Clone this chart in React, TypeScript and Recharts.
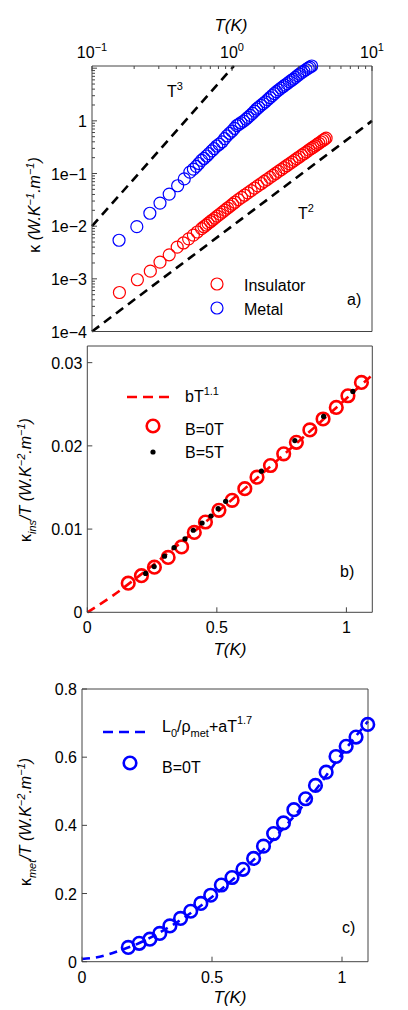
import React from 'react';
import { ComposedChart, XAxis, YAxis, Scatter, Line } from 'recharts';

const FONT = '"Liberation Sans", Arial, Helvetica, sans-serif';

// ---------- Panel a (log-log) ----------
const metalT = [0.156,0.209,0.259,0.306,0.356,0.409,0.456,0.50,0.53,0.556,0.58,0.606,0.63,0.659,0.685,0.717,0.745,0.778,0.81,0.85,0.885,0.92,0.96,1.0,1.04,1.08,1.12,1.16,1.21,1.26,1.30,1.35,1.40,1.45,1.50,1.55,1.61,1.67,1.73,1.80,1.87,1.94,2.01,2.08,2.16,2.24,2.32,2.39,2.48,2.57,2.66,2.74,2.84,2.94,3.04,3.15,3.26,3.38,3.50,3.60,3.71];
const metalK = [0.0054,0.0098,0.0176,0.0274,0.0407,0.0585,0.079,0.106,0.121,0.137,0.155,0.178,0.193,0.215,0.238,0.269,0.297,0.333,0.36,0.40,0.46,0.52,0.58,0.64,0.72,0.81,0.86,0.92,0.99,1.08,1.16,1.27,1.39,1.53,1.68,1.80,1.96,2.12,2.30,2.52,2.77,3.03,3.30,3.59,3.88,4.18,4.48,4.75,5.10,5.48,5.85,6.2,6.7,7.2,7.7,8.3,8.8,9.4,10.0,10.5,11.0];
const insT = [0.157,0.211,0.261,0.306,0.356,0.406,0.45,0.49,0.53,0.565,0.606,0.63,0.653,0.675,0.70,0.725,0.754,0.785,0.82,0.855,0.89,0.93,0.97,1.01,1.05,1.11,1.17,1.23,1.30,1.37,1.45,1.53,1.62,1.70,1.78,1.87,1.96,2.05,2.15,2.25,2.35,2.46,2.57,2.68,2.79,2.90,3.02,3.15,3.28,3.41,3.54,3.67,3.79,3.91,4.04,4.17,4.31,4.45,4.58,4.70];
const insK = [0.00055,0.00096,0.0014,0.00208,0.00286,0.0040,0.0048,0.00575,0.00678,0.00775,0.00898,0.00975,0.0105,0.01126,0.01215,0.01308,0.0142,0.01546,0.01694,0.0185,0.0201,0.0221,0.0241,0.0262,0.0285,0.0320,0.0353,0.0387,0.0429,0.0473,0.0526,0.0581,0.0646,0.0707,0.077,0.0844,0.0921,0.1002,0.1094,0.119,0.129,0.1406,0.1525,0.1648,0.1777,0.191,0.206,0.2227,0.240,0.258,0.277,0.296,0.314,0.333,0.354,0.375,0.399,0.4235,0.447,0.4686];
const t3T = [0.1, 1.032];
const t3K = [0.01, 11];
const t2T = [0.1, 10];
const t2K = [0.0001, 1];
const aXTicks = [0.1,0.2,0.3,0.4,0.5,0.6,0.7,0.8,0.9,1,2,3,4,5,6,7,8,9,10];
const aYTicks = [0.0001,0.0002,0.0003,0.0004,0.0005,0.0006,0.0007,0.0008,0.0009,0.001,0.002,0.003,0.004,0.005,0.006,0.007,0.008,0.009,0.01,0.02,0.03,0.04,0.05,0.06,0.07,0.08,0.09,0.1,0.2,0.3,0.4,0.5,0.6,0.7,0.8,0.9,1,2,3,4,5,6,7,8,9,10];

// ---------- Panel b ----------
const b0T = [0.158,0.209,0.259,0.312,0.364,0.413,0.456,0.508,0.559,0.608,0.655,0.707,0.758,0.807,0.859,0.910,0.961,1.006,1.058];
const b0V = [0.0035,0.0044,0.00542,0.0066,0.00786,0.0096,0.01085,0.01225,0.01345,0.01485,0.01624,0.01764,0.01904,0.02043,0.02192,0.02323,0.02462,0.02602,0.02762];
const b5T = [0.225,0.258,0.298,0.335,0.377,0.409,0.443,0.477,0.505,0.534,0.672,0.801,0.912,1.025];
const b5V = [0.00467,0.0055,0.00674,0.00778,0.00882,0.00986,0.01073,0.01157,0.01245,0.01333,0.01696,0.02063,0.02354,0.02654];
const bFitT = [0,0.1,0.2,0.3,0.4,0.5,0.6,0.7,0.8,0.9,1.0,1.1];
const bFitV = [0,0.00204,0.00438,0.00684,0.00937,0.0120,0.01465,0.01735,0.0201,0.02287,0.0257,0.02853];
const bXTicks = [0, 0.5, 1];
const bYTicks = [0, 0.01, 0.02, 0.03];

// ---------- Panel c ----------
const c0T = [0.178,0.22,0.261,0.299,0.338,0.379,0.418,0.457,0.495,0.536,0.577,0.619,0.66,0.698,0.737,0.775,0.815,0.86,0.898,0.939,0.977,1.016,1.054,1.099];
const c0V = [0.042,0.054,0.066,0.083,0.105,0.127,0.148,0.171,0.195,0.225,0.247,0.271,0.303,0.339,0.376,0.407,0.446,0.478,0.517,0.556,0.602,0.632,0.659,0.696];
const cFitT = [0,0.05,0.1,0.15,0.2,0.3,0.4,0.5,0.6,0.7,0.8,0.9,1.0,1.1];
const cFitV = [0.008,0.012,0.021,0.034,0.048,0.086,0.133,0.19,0.255,0.33,0.413,0.505,0.61,0.705];
const cXTicks = [0, 0.5, 1];
const cYTicks = [0, 0.2, 0.4, 0.6, 0.8];

const zip = (xs: number[], ys: number[]) => xs.map((x, i) => ({ x, y: ys[i] }));

type Side = 'top' | 'bottom' | 'left' | 'right';
const AX = '#444';

function makeTick(side: Side, isMajor: (v: number) => boolean, label?: (v: number) => React.ReactNode, majLen = 5, minLen = 3) {
  return (props: any) => {
    const { x, y, payload } = props;
    const v = payload.value as number;
    const major = isMajor(v);
    const L = major ? majLen : minLen;
    let x2 = x, y2 = y;
    if (side === 'top') y2 = y + L;
    else if (side === 'bottom') y2 = y - L;
    else if (side === 'left') x2 = x + L;
    else x2 = x - L;
    const lab = major && label ? label(v) : null;
    let text: React.ReactNode = null;
    if (lab != null) {
      if (side === 'top') text = <text x={x} y={y - 8} textAnchor="middle" fontSize={16} fontFamily={FONT} fill="#000">{lab}</text>;
      else if (side === 'bottom') text = <text x={x} y={y + 21} textAnchor="middle" fontSize={16} fontFamily={FONT} fill="#000">{lab}</text>;
      else if (side === 'left') text = <text x={x - 5} y={y + 6} textAnchor="end" fontSize={16} fontFamily={FONT} fill="#000">{lab}</text>;
    }
    return (
      <g>
        <line x1={x} y1={y} x2={x2} y2={y2} stroke={AX} strokeWidth={1} />
        {text}
      </g>
    );
  };
}

const isDecade = (v: number) => Math.abs(Math.log10(v) - Math.round(Math.log10(v))) < 1e-9;
const always = () => true;
const topLabel = (v: number) => {
  const e = Math.round(Math.log10(v));
  return (
    <>
      <tspan>10</tspan>
      <tspan dy={-7} fontSize={11}>{e < 0 ? '\u2212' + -e : String(e)}</tspan>
    </>
  );
};
const leftLogLabel = (v: number) => {
  if (v > 1.5) return null;
  const e = Math.round(Math.log10(v));
  return e === 0 ? '1' : `1e\u2212${-e}`;
};
const linLabel = (v: number) => String(v);

const hollow = (color: string, r: number, w: number) => (p: any) =>
  <circle cx={p.cx} cy={p.cy} r={r} fill="none" stroke={color} strokeWidth={w} />;
const dot = (p: any) => <circle cx={p.cx} cy={p.cy} r={2.6} fill="#000" />;

const abs = (top: number): React.CSSProperties => ({ position: 'absolute', left: 0, top });

const axCommon = { interval: 0 as const, tickSize: 0, tickMargin: 0, tickLine: false, stroke: AX, allowDecimals: true };

function PanelA() {
  return (
    <div style={abs(0)}>
      <ComposedChart width={408} height={340} margin={{ top: 65, right: 35, bottom: 7.5, left: 91 }}>
        <XAxis xAxisId="t" dataKey="x" type="number" scale="log" domain={[0.1, 10]} orientation="top" height={1}
          ticks={aXTicks} {...axCommon} tick={makeTick('top', isDecade, topLabel)} />
        <XAxis xAxisId="b" dataKey="x" type="number" scale="log" domain={[0.1, 10]} orientation="bottom" height={1}
          ticks={aXTicks} {...axCommon} tick={makeTick('bottom', isDecade)} />
        <YAxis yAxisId="l" dataKey="y" type="number" scale="log" domain={[0.0001, 11]} orientation="left" width={1}
          ticks={aYTicks} {...axCommon} tick={makeTick('left', isDecade, leftLogLabel)} />
        <YAxis yAxisId="r" dataKey="y" type="number" scale="log" domain={[0.0001, 11]} orientation="right" width={1}
          ticks={aYTicks} {...axCommon} tick={makeTick('right', isDecade)} />
        <Line xAxisId="t" yAxisId="l" data={zip(t3T, t3K)} dataKey="y" type="linear" stroke="#000" strokeWidth={2.6}
          strokeDasharray="9 6" dot={false} activeDot={false} isAnimationActive={false} />
        <Line xAxisId="t" yAxisId="l" data={zip(t2T, t2K)} dataKey="y" type="linear" stroke="#000" strokeWidth={2.6}
          strokeDasharray="9 6" dot={false} activeDot={false} isAnimationActive={false} />
        <Scatter xAxisId="t" yAxisId="l" data={zip(insT, insK)} dataKey="y" shape={hollow('#ff0000', 6, 1.2)} isAnimationActive={false} />
        <Scatter xAxisId="t" yAxisId="l" data={zip(metalT, metalK)} dataKey="y" shape={hollow('#0000ff', 6, 1.2)} isAnimationActive={false} />
      </ComposedChart>
    </div>
  );
}

function PanelB() {
  return (
    <div style={abs(340)}>
      <ComposedChart width={408} height={320} margin={{ top: 5, right: 34.7, bottom: 46.7, left: 86.3 }}>
        <XAxis xAxisId="b" dataKey="x" type="number" domain={[0, 1.1]} orientation="bottom" height={1}
          ticks={bXTicks} {...axCommon} tick={makeTick('bottom', always, linLabel)} />
        <XAxis xAxisId="t" dataKey="x" type="number" domain={[0, 1.1]} orientation="top" height={1}
          ticks={bXTicks} {...axCommon} tick={makeTick('top', always)} />
        <YAxis yAxisId="l" dataKey="y" type="number" domain={[0, 0.032]} orientation="left" width={1}
          ticks={bYTicks} {...axCommon} tick={makeTick('left', always, linLabel)} />
        <YAxis yAxisId="r" dataKey="y" type="number" domain={[0, 0.032]} orientation="right" width={1}
          ticks={bYTicks} {...axCommon} tick={makeTick('right', always)} />
        <Line xAxisId="b" yAxisId="l" data={zip(bFitT, bFitV)} dataKey="y" type="monotone" stroke="#ff0000" strokeWidth={2.6}
          strokeDasharray="9 6" dot={false} activeDot={false} isAnimationActive={false} />
        <Scatter xAxisId="b" yAxisId="l" data={zip(b0T, b0V)} dataKey="y" shape={hollow('#ff0000', 6.3, 2.6)} isAnimationActive={false} />
        <Scatter xAxisId="b" yAxisId="l" data={zip(b5T, b5V)} dataKey="y" shape={dot} isAnimationActive={false} />
      </ComposedChart>
    </div>
  );
}

function PanelC() {
  return (
    <div style={abs(660)}>
      <ComposedChart width={408} height={350} margin={{ top: 28, right: 39, bottom: 47.3, left: 81 }}>
        <XAxis xAxisId="b" dataKey="x" type="number" domain={[0, 1.1]} orientation="bottom" height={1}
          ticks={cXTicks} {...axCommon} tick={makeTick('bottom', always, linLabel)} />
        <XAxis xAxisId="t" dataKey="x" type="number" domain={[0, 1.1]} orientation="top" height={1}
          ticks={cXTicks} {...axCommon} tick={makeTick('top', always)} />
        <YAxis yAxisId="l" dataKey="y" type="number" domain={[0, 0.8]} orientation="left" width={1}
          ticks={cYTicks} {...axCommon} tick={makeTick('left', always, linLabel)} />
        <YAxis yAxisId="r" dataKey="y" type="number" domain={[0, 0.8]} orientation="right" width={1}
          ticks={cYTicks} {...axCommon} tick={makeTick('right', always)} />
        <Line xAxisId="b" yAxisId="l" data={zip(cFitT, cFitV)} dataKey="y" type="monotone" stroke="#0000ff" strokeWidth={2.6}
          strokeDasharray="8 6" dot={false} activeDot={false} isAnimationActive={false} />
        <Scatter xAxisId="b" yAxisId="l" data={zip(c0T, c0V)} dataKey="y" shape={hollow('#0000ff', 6.3, 2.6)} isAnimationActive={false} />
      </ComposedChart>
    </div>
  );
}

function Overlay() {
  const t = { fontFamily: FONT, fill: '#000' } as const;
  return (
    <svg width={408} height={1010} style={{ position: 'absolute', left: 0, top: 0, pointerEvents: 'none' }}>
      {/* Panel a */}
      <text x={231} y={31} textAnchor="middle" fontSize={17} fontStyle="italic" {...t}>T(K)</text>
      <text x={167} y={97} fontSize={16} {...t}>T<tspan dy={-7} fontSize={11}>3</tspan></text>
      <text x={298} y={219} fontSize={16} {...t}>T<tspan dy={-7} fontSize={11}>2</tspan></text>
      <text x={347} y={305} fontSize={16} {...t}>a)</text>
      <circle cx={217} cy={284} r={6} fill="none" stroke="#ff0000" strokeWidth={1.2} />
      <text x={244} y={291} fontSize={16} {...t}>Insulator</text>
      <circle cx={217} cy={308} r={6} fill="none" stroke="#0000ff" strokeWidth={1.2} />
      <text x={244} y={315} fontSize={16} {...t}>Metal</text>
      <text transform="translate(40,205) rotate(-90)" textAnchor="middle" fontSize={16} {...t}>
        κ <tspan fontStyle="italic">(W.K</tspan><tspan dy={-6} fontSize={11} fontStyle="italic">−1</tspan><tspan dy={6} fontStyle="italic">.m</tspan><tspan dy={-6} fontSize={11} fontStyle="italic">−1</tspan><tspan dy={6} fontStyle="italic">)</tspan>
      </text>

      {/* Panel b */}
      <line x1={127} y1={397} x2={171} y2={397} stroke="#ff0000" strokeWidth={2.6} strokeDasharray="10 6" />
      <text x={185} y={402} fontSize={16} {...t}>bT<tspan dy={-7} fontSize={11}>1.1</tspan></text>
      <circle cx={153} cy={426} r={6.3} fill="none" stroke="#ff0000" strokeWidth={2.6} />
      <text x={185} y={435} fontSize={16} {...t}>B=0T</text>
      <circle cx={153} cy={452} r={2.6} fill="#000" />
      <text x={185} y={458} fontSize={16} {...t}>B=5T</text>
      <text x={340} y={577} fontSize={16} {...t}>b)</text>
      <text x={230} y={655} textAnchor="middle" fontSize={17} fontStyle="italic" {...t}>T(K)</text>
      <text transform="translate(31,480) rotate(-90)" textAnchor="middle" fontSize={16} {...t}>
        κ<tspan dy={5} fontSize={11} fontStyle="italic">ins</tspan><tspan dy={-5} fontStyle="italic">/T (W.K</tspan><tspan dy={-6} fontSize={11} fontStyle="italic">−2</tspan><tspan dy={6} fontStyle="italic">.m</tspan><tspan dy={-6} fontSize={11} fontStyle="italic">−1</tspan><tspan dy={6} fontStyle="italic">)</tspan>
      </text>

      {/* Panel c */}
      <line x1={103} y1={732} x2={147} y2={732} stroke="#0000ff" strokeWidth={2.6} strokeDasharray="10 6" />
      <text x={162} y={732} fontSize={16} {...t}>L<tspan dy={5} fontSize={11}>0</tspan><tspan dy={-5}>/ρ</tspan><tspan dy={5} fontSize={11}>met</tspan><tspan dy={-5}>+aT</tspan><tspan dy={-8} fontSize={11}>1.7</tspan></text>
      <circle cx={130} cy={763} r={6.3} fill="none" stroke="#0000ff" strokeWidth={2.6} />
      <text x={162} y={773} fontSize={16} {...t}>B=0T</text>
      <text x={342} y={933} fontSize={16} {...t}>c)</text>
      <text x={230} y={1003} textAnchor="middle" fontSize={17} fontStyle="italic" {...t}>T(K)</text>
      <text transform="translate(31,822) rotate(-90)" textAnchor="middle" fontSize={16} {...t}>
        κ<tspan dy={5} fontSize={11} fontStyle="italic">met</tspan><tspan dy={-5} fontStyle="italic">/T (W.K</tspan><tspan dy={-6} fontSize={11} fontStyle="italic">−2</tspan><tspan dy={6} fontStyle="italic">.m</tspan><tspan dy={-6} fontSize={11} fontStyle="italic">−1</tspan><tspan dy={6} fontStyle="italic">)</tspan>
      </text>
    </svg>
  );
}

export default function App() {
  return (
    <div style={{ position: 'absolute', left: 0, top: 0, width: 408, height: 1010, background: '#fff', fontFamily: FONT }}>
      <PanelA />
      <PanelB />
      <PanelC />
      <Overlay />
    </div>
  );
}
